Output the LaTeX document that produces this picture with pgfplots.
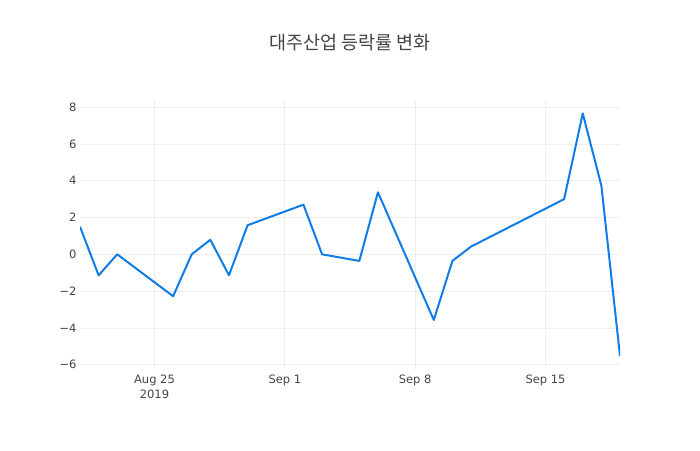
\documentclass[border=0pt]{standalone}
\usepackage{fontspec}
\setmainfont{DejaVu Sans}
\newfontfamily\cjk{Noto Sans CJK KR}
\usepackage{pgfplots}
\pgfplotsset{compat=1.18}

\definecolor{txt}{HTML}{444444}
\definecolor{gridc}{HTML}{EEEEEE}
\definecolor{linec}{RGB}{16,124,230}

% x = days since 2019-08-25
\pgfplotstableread{
x y
-4 1.50
-3 -1.14
-2 0.00
1 -2.28
2 0.00
3 0.79
4 -1.14
5 1.58
8 2.70
9 0.00
11 -0.36
12 3.37
15 -3.57
16 -0.36
17 0.42
22 3.00
23 7.66
24 3.73
25 -5.53
}\rate

\begin{document}
\begin{tikzpicture}[x=1pt,y=1pt]
\path[use as bounding box] (0,0) rectangle (700,450);
\node[text=txt,font=\cjk\fontsize{18.5}{22}\selectfont] at (350,407) {대주산업 등락률 변화};
\begin{axis}[
  at={(80pt,80pt)}, anchor=south west,
  scale only axis, width=540pt, height=270pt,
  xmin=-4, xmax=25, ymin=-6.29, ymax=8.39,
  axis line style={draw=none},
  major tick style={draw=none},
  xtick={0,7,14,21},
  xticklabels={{Aug 25\\2019},{Sep 1},{Sep 8},{Sep 15}},
  x tick label style={align=center,font=\fontsize{11.5}{15.5}\selectfont,text=txt,yshift=-1pt},
  ytick={-6,-4,...,8},
  yticklabels={−6,−4,−2,0,2,4,6,8},
  y tick label style={font=\fontsize{11.5}{14}\selectfont,text=txt},
  grid=major,
  major grid style={gridc,line width=0.75pt},
  extra y ticks={0},
  extra y tick labels={},
  extra y tick style={grid style={txt,line width=0.9pt}},
]
\addplot[linec,line width=2pt,line join=round] table[x=x,y=y] {\rate};
\end{axis}
\end{tikzpicture}
\end{document}
